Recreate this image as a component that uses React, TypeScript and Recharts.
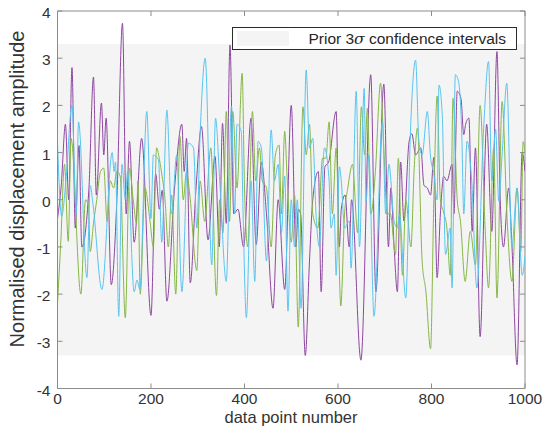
import React from 'react';
import { LineChart, Line, XAxis, YAxis, ReferenceArea, ReferenceLine, Legend, Label } from 'recharts';

// ---------- data ([data point, amplitude] at turning points) ----------
const xTicks = [0, 200, 400, 600, 800, 1000];
const yTicks = [-4, -3, -2, -1, 0, 1, 2, 3, 4];
const bandUpper = 3.3;
const bandLower = -3.3;
const legendLabel = 'confidence intervals';

const purplePts: [number, number][] = [
  [0, -0.4], [8, 0.3], [17, 1.6], [24, 0.0], [31, 2.8], [38, -0.6], [46, 1.15], [52, -1.0], [67, 0.2], [77, 2.6],
  [83, 0.1], [94, 2.05], [99, 0.95], [104, 1.73], [115, -1.8], [127, 0.0], [139, 3.74], [147, -0.3], [154, 1.24], [164, -0.9],
  [180, 1.3], [200, -2.45], [210, 0.55], [218, -0.2], [224, 0.2], [234, -2.15], [250, 0.2], [266, 1.6], [271, 0.6], [276, 1.3],
  [284, -1.76], [296, 0.2], [308, 1.55], [322, -0.85], [337, 0.92], [346, -1.0], [353, 1.62], [361, -0.5], [369, 3.28], [377, -0.3],
  [386, -0.2], [398, -1.0], [414, 1.73], [425, -0.95], [436, 0.8], [447, -0.3], [461, -2.3], [472, 0.0], [486, -1.9], [500, 2.0],
  [510, -1.0], [515, -0.2], [520, -0.3], [530, -3.3], [539, -1.3], [546, 0.0], [558, 0.6], [564, -1.95], [572, 0.7], [580, 0.8],
  [596, 1.87], [603, -1.0], [607, -0.2], [615, 0.1], [624, -1.0], [629, 0.0], [649, -3.4], [670, 2.65], [681, -1.95], [698, 2.45],
  [708, -1.0], [713, 0.25], [720, -1.0], [727, -1.95], [734, 0.8], [741, -0.45], [752, 1.23], [758, 1.4], [766, 0.95], [777, 1.1],
  [784, 0.3], [791, 0.25], [798, 0.1], [805, 0.9], [812, -1.65], [819, -0.3], [826, 0.5], [833, 0.4], [844, 0.75], [848, -0.3],
  [855, 2.3], [863, 2.15], [869, 1.38], [873, 1.6], [880, 1.73], [887, -0.67], [894, 1.1], [904, -2.9], [918, 1.6], [929, -0.67],
  [940, 3.14], [947, 0.0], [954, -1.0], [965, 0.25], [972, -0.95], [983, -3.5], [994, 1.0], [1000, 0.6],
];

const greenPts: [number, number][] = [
  [0, -2.2], [7, -0.9], [15, 0.75], [23, -0.88], [29, 1.3], [50, -2.0], [60, 0.0], [66, -0.1], [70, -1.1], [77, -0.5],
  [84, 0.0], [92, 0.6], [99, 0.67], [106, -0.46], [113, 0.4], [120, 0.25], [127, 0.6], [134, 0.5], [145, -2.5], [154, 0.67],
  [162, 0.0], [169, -0.5], [172, 0.4], [177, -2.0], [187, 0.25], [198, -0.46], [205, -1.0], [212, 1.1], [219, 0.8], [223, 0.55],
  [230, 0.0], [237, -1.0], [244, 0.1], [253, -2.0], [262, 1.34], [269, 0.0], [276, 0.6], [283, 0.1], [298, -1.5], [305, 0.4],
  [315, -0.46], [328, 1.1], [340, -2.03], [347, 0.0], [354, -0.7], [361, 1.87], [368, -0.46], [375, 1.87], [384, 0.25], [395, 2.68],
  [400, 0.25], [407, -1.0], [417, 1.87], [424, 0.4], [432, 1.1], [438, 0.4], [447, 0.25], [457, -1.0], [466, 0.95], [474, 1.16],
  [479, -0.3], [486, 1.45], [491, 0.5], [500, -0.9], [507, 0.1], [515, -2.7], [525, 1.97], [532, 0.95], [539, 1.6], [546, -0.3],
  [557, -0.6], [567, 0.88], [574, 0.88], [581, 1.65], [588, -0.3], [596, 1.1], [606, -2.25], [614, -0.3], [621, 0.25], [631, 0.75],
  [642, -0.7], [650, 1.97], [657, 0.95], [663, 1.94], [670, -0.3], [673, -0.2], [680, 0.6], [691, 2.47], [698, 1.1], [705, -0.3],
  [712, -0.3], [723, -1.16], [729, 0.88], [738, -1.6], [745, 0.0], [756, -1.0], [763, 0.67], [770, 1.52], [780, -1.3], [788, -1.94],
  [798, -3.16], [805, 0.0], [812, 2.2], [819, 0.0], [827, -0.3], [833, -0.6], [840, -1.6], [846, 2.15], [855, 0.0], [862, -0.46],
  [872, -1.73], [883, -0.67], [894, -1.38], [904, 2.0], [915, -0.67], [922, -1.87], [933, 1.1], [940, -2.08], [951, 2.08], [962, -0.46],
  [972, -1.73], [983, 0.25], [991, -1.1], [996, 1.23], [1000, 1.0],
];

const cyanPts: [number, number][] = [
  [0, 1.2], [9, -0.35], [18, 0.4], [31, 2.0], [40, -0.3], [45, 1.65], [63, -1.65], [70, 0.3], [76, -0.1], [95, -1.9],
  [117, 1.0], [121, 0.6], [124, 0.8], [131, -2.47], [138, 0.75], [145, 0.0], [150, 0.6], [164, -1.95], [170, -1.7], [176, -1.9],
  [191, 1.87], [200, -0.4], [205, 0.95], [216, 0.85], [223, -0.9], [234, 1.9], [244, -0.3], [255, 0.95], [266, -1.95], [280, 1.2],
  [291, 1.1], [298, -0.6], [305, 1.38], [316, 3.0], [330, -1.38], [338, 1.73], [347, 0.4], [361, -1.73], [372, 1.98], [379, -0.3],
  [384, 1.6], [393, 1.45], [397, -0.3], [404, -2.5], [414, 0.4], [422, -1.73], [429, 1.24], [436, 1.1], [447, -1.3], [457, 1.48],
  [464, 0.4], [472, 0.75], [479, -0.7], [486, 0.5], [493, -2.36], [500, 0.0], [507, -1.0], [513, 0.0], [521, -2.3], [532, 2.75],
  [539, 1.1], [546, 1.3], [553, -0.3], [560, -1.0], [571, 1.1], [581, 0.4], [585, -0.6], [592, -0.3], [596, -1.6], [603, 0.7],
  [607, 0.4], [614, -0.6], [624, -0.45], [628, -1.45], [639, 2.3], [646, -1.0], [656, 2.36], [660, -0.05], [666, 0.95], [677, -2.47],
  [695, 1.66], [702, -0.3], [709, 0.75], [720, -0.45], [727, -0.6], [731, -0.3], [745, -2.08], [755, 1.45], [766, 2.96], [773, 1.24],
  [780, 0.95], [791, 1.87], [798, 0.9], [805, 0.55], [812, 0.0], [816, 2.43], [823, 1.8], [830, -1.16], [840, -0.6], [844, -1.87],
  [851, 2.65], [858, 2.5], [865, 1.3], [869, -0.3], [876, 1.24], [886, 0.4], [897, -1.87], [912, 1.6], [922, 2.93], [929, 0.4],
  [937, 1.5], [944, -0.03], [951, 0.95], [961, 2.47], [972, -1.0], [983, 0.25], [994, -1.6], [1000, -1.2],
];

const toRows = (pts: [number, number][]) => pts.map(([i, v]) => ({ i, v }));
const purpleData = toRows(purplePts);
const greenData = toRows(greenPts);
const cyanData = toRows(cyanPts);

// ---------- styling / layout ----------
const W = 545;
const H = 433;
const TOP = 11;
const RIGHT_GAP = 20;
const LEFT_W = 57.5;
const BOTTOM_H = 44.5;
const RIGHT_X = W - RIGHT_GAP;
const FONT = '"Liberation Sans", Arial, Helvetica, sans-serif';
const AXIS = '#8c8c8c';
const TXT = '#333333';
const TICK_LEN = 5;

const XTick = (props: any) => {
  const { x, y, payload } = props;
  return (
    <g>
      <line x1={x} x2={x} y1={y} y2={y - TICK_LEN} stroke={AXIS} strokeWidth={1} />
      <line x1={x} x2={x} y1={TOP} y2={TOP + TICK_LEN} stroke={AXIS} strokeWidth={1} />
      <text x={x} y={y + 15.5} textAnchor="middle" fontSize={15.5} fontFamily={FONT} fill={TXT}>
        {String(payload.value)}
      </text>
    </g>
  );
};

const YTick = (props: any) => {
  const { x, y, payload } = props;
  return (
    <g>
      <line x1={x} x2={x + TICK_LEN} y1={y} y2={y} stroke={AXIS} strokeWidth={1} />
      <line x1={RIGHT_X} x2={RIGHT_X - TICK_LEN} y1={y} y2={y} stroke={AXIS} strokeWidth={1} />
      <text x={x - 7} y={y + 7} textAnchor="end" fontSize={15.5} fontFamily={FONT} fill={TXT}>
        {String(payload.value)}
      </text>
    </g>
  );
};

const LegendBox = () => (
  <div
    style={{
      width: 285,
      height: 23,
      border: '1px solid #2b2b2b',
      background: '#ffffff',
      boxSizing: 'border-box',
      fontFamily: FONT,
      fontSize: 15.5,
      color: '#262626',
      position: 'relative',
    }}
  >
    <div style={{ position: 'absolute', left: 4, top: 3, width: 52, height: 15, background: '#f4f4f4' }} />
    <div style={{ position: 'absolute', right: 10, top: 0, lineHeight: '21px', whiteSpace: 'nowrap' }}>
      Prior 3<span style={{ fontStyle: 'italic', fontFamily: '"DejaVu Serif", "Liberation Serif", serif' }}>σ</span> {legendLabel}
    </div>
  </div>
);

export default function App() {
  return (
    <div style={{ position: 'absolute', left: 0, top: 0, width: W, height: H, background: '#fff' }}>
      <LineChart
        width={W}
        height={H}
        margin={{ top: TOP, right: RIGHT_GAP, left: 0, bottom: 0 }}
      >
        <ReferenceArea x1={0} x2={1000} y1={bandLower} y2={bandUpper} fill="#f4f4f4" fillOpacity={1} stroke="none" ifOverflow="visible" />
        <XAxis
          dataKey="i"
          type="number"
          domain={[0, 1000]}
          ticks={xTicks}
          allowDataOverflow
          height={BOTTOM_H}
          tickSize={0}
          tickMargin={0}
          tickLine={false}
          tick={<XTick />}
          axisLine={{ stroke: AXIS, strokeWidth: 1 }}
          interval={0}
        >
          <Label
            content={() => (
              <text x={291} y={423} textAnchor="middle" fontSize={16.5} fontFamily={FONT} fill={TXT}>
                data point number
              </text>
            )}
          />
        </XAxis>
        <YAxis
          type="number"
          domain={[-4, 4]}
          ticks={yTicks}
          allowDataOverflow
          width={LEFT_W}
          tickSize={0}
          tickMargin={0}
          tickLine={false}
          tick={<YTick />}
          axisLine={{ stroke: AXIS, strokeWidth: 1 }}
          interval={0}
        >
          <Label
            content={() => (
              <text
                x={24}
                y={189}
                transform="rotate(-90 24 189)"
                textAnchor="middle"
                fontSize={20}
                fontFamily={FONT}
                fill={TXT}
              >
                Normalised displacement amplitude
              </text>
            )}
          />
        </YAxis>
        <ReferenceLine y={4} stroke={AXIS} strokeWidth={1} ifOverflow="visible" />
        <ReferenceLine x={1000} stroke={AXIS} strokeWidth={1} ifOverflow="visible" />
        <Line data={purpleData} dataKey="v" type="monotone" stroke="#8e46a0" strokeWidth={1} dot={false} isAnimationActive={false} />
        <Line data={greenData} dataKey="v" type="monotone" stroke="#86b646" strokeWidth={1} dot={false} isAnimationActive={false} />
        <Line data={cyanData} dataKey="v" type="monotone" stroke="#58c4ee" strokeWidth={1} dot={false} isAnimationActive={false} />
        <Legend
          layout="horizontal"
          verticalAlign="middle"
          align="center"
          content={<LegendBox />}
          wrapperStyle={{ position: 'absolute', left: 232, top: 27, width: 285, height: 23 }}
        />
      </LineChart>
    </div>
  );
}
